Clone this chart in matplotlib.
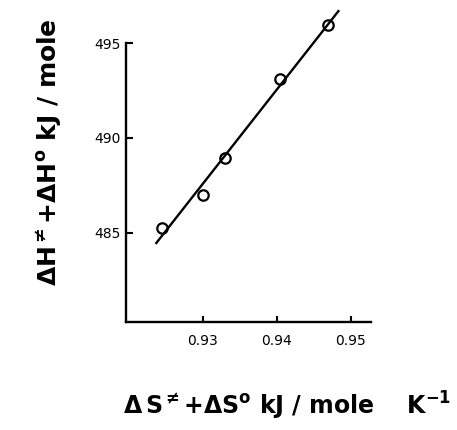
import numpy as np
import matplotlib
matplotlib.use('Agg')
import matplotlib.pyplot as plt

# data
dS = [0.9244, 0.9300, 0.9330, 0.9404, 0.9469]      # dS(TS) + dS0, kJ/mole K^-1
dH = [485.25, 487.0, 488.93, 493.09, 495.95]        # dH(TS) + dH0, kJ/mole
line_x = [0.9237, 0.9483]                           # extent of the fitted line
xticks = [0.93, 0.94, 0.95]
yticks = [485, 490, 495]

# bold sans for the axis titles (math parts too)
plt.rcParams['mathtext.fontset'] = 'custom'
plt.rcParams['mathtext.rm'] = 'DejaVu Sans:bold'
plt.rcParams['mathtext.default'] = 'rm'

fig = plt.figure(figsize=(4.57, 4.30), dpi=100)
ax = fig.add_axes([0.2757, 0.2512, 0.536, 0.6488])

# least squares line through the points
a, b = np.polyfit(dS, dH, 1)
lx = np.array(line_x)
ax.plot(lx, a*lx + b, color='black', lw=1.7, clip_on=False)
ax.plot(dS, dH, 'o', mfc='none', mec='black', ms=7.5, mew=1.6, clip_on=False)

ax.set_xlim(0.9196, 0.9527)
ax.set_ylim(480.3, 495)
ax.spines['top'].set_visible(False)
ax.spines['right'].set_visible(False)
ax.spines['left'].set_linewidth(1.7)
ax.spines['bottom'].set_linewidth(1.7)

ax.set_xticks(xticks)
ax.set_xticklabels(['%.2f' % t for t in xticks])
ax.set_yticks(yticks)
ax.set_yticklabels([str(t) for t in yticks])
ax.tick_params(axis='both', direction='in', width=1.5, labelsize=10)
ax.tick_params(axis='y', length=5, pad=4)
ax.tick_params(axis='x', length=4, pad=9)

# axis titles
fig.text(123/457, 1 - 415/430,
         r'$\Delta\,S^{\neq}{+}\Delta S^{o}$ kJ / mole    K$^{-1}$',
         fontsize=17, fontweight='bold', ha='left', va='baseline')
fig.text(48/457, 1 - 152/430,
         r'$\Delta H^{\neq}{+}\Delta H^{o}$ kJ / mole',
         fontsize=18, fontweight='bold', rotation=90, ha='center', va='center')

plt.savefig('out.png', dpi=100)
